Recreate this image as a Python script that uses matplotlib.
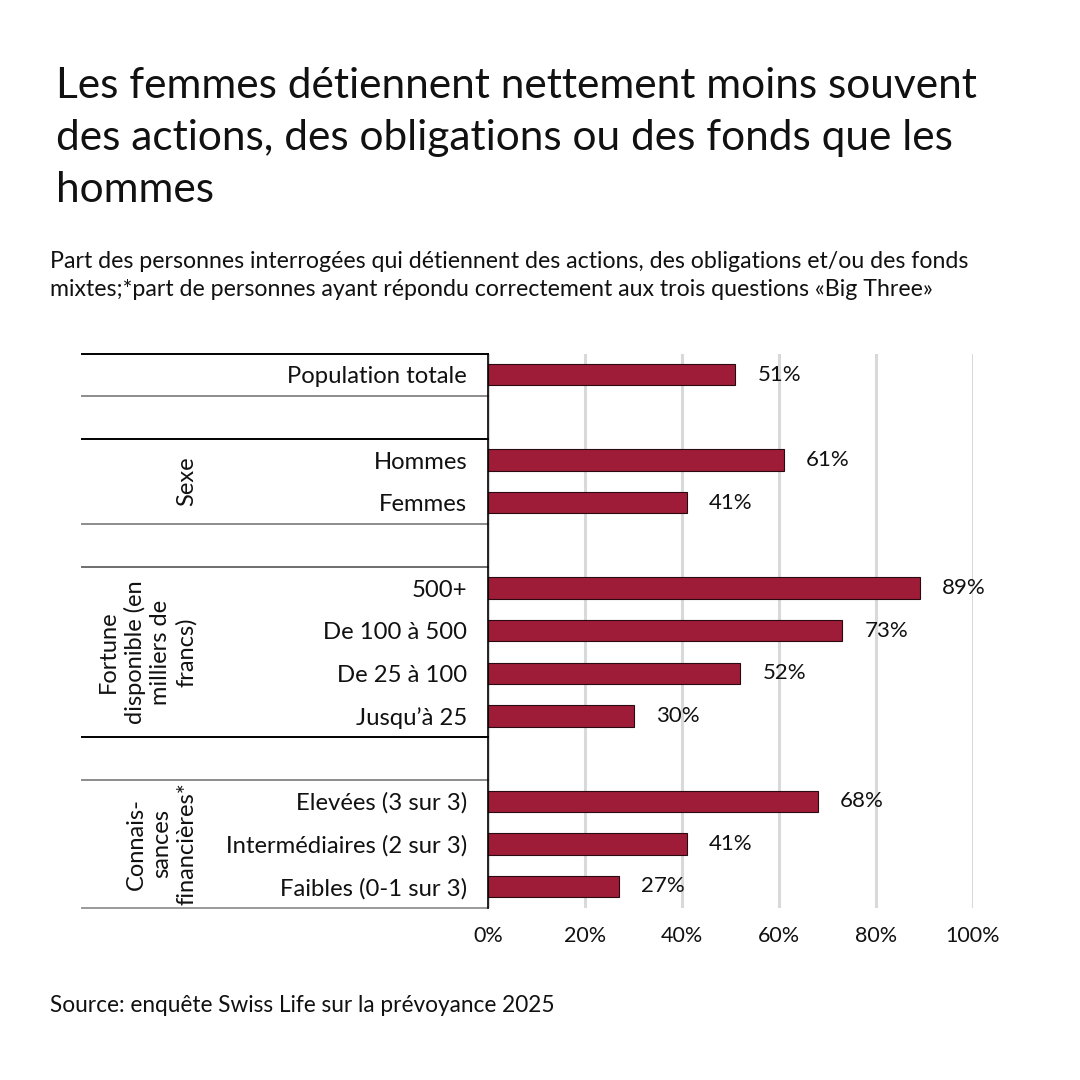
import matplotlib
matplotlib.use("Agg")
import matplotlib.pyplot as plt
import matplotlib.transforms as mtransforms

plt.rcParams['font.family'] = ['Lato', 'DejaVu Sans']

# ---- data ----
categories = ["Population totale", "", "Hommes", "Femmes", "",
              "500+", "De 100 à 500", "De 25 à 100", "Jusqu’à 25", "",
              "Elevées (3 sur 3)", "Intermédiaires (2 sur 3)", "Faibles (0-1 sur 3)"]
values = [51, None, 61, 41, None, 89, 73, 52, 30, None, 68, 41, 27]
value_labels = ["51%", "", "61%", "41%", "", "89%", "73%", "52%", "30%", "", "68%", "41%", "27%"]
group_names = ["Sexe", "Fortune\ndisponible (en\nmilliers de\nfrancs)", "Connais-\nsances\nfinancières*"]
group_centers = [2.5, 6.5, 11]
x_ticks = [0, 20, 40, 60, 80, 100]
x_tick_labels = ["0%", "20%", "40%", "60%", "80%", "100%"]
separator_rows = [-0.5, 0.5, 1.5, 3.5, 4.5, 8.5, 9.5, 12.5]
separator_colors = ["#000000", "#8c8c8c", "#000000", "#8c8c8c", "#6e6e6e", "#000000", "#8c8c8c", "#9a9a9a"]

title_lines = ["Les femmes détiennent nettement moins souvent",
               "des actions, des obligations ou des fonds que les",
               "hommes"]
subtitle_lines = ["Part des personnes interrogées qui détiennent des actions, des obligations et/ou des fonds",
                  "mixtes;*part de personnes ayant répondu correctement aux trois questions «Big Three»"]
source = "Source: enquête Swiss Life sur la prévoyance 2025"

BAR = "#9E1C37"
TXT = "#111111"

W = H = 1080
fig = plt.figure(figsize=(10.8, 10.8), dpi=100)
fig.patch.set_facecolor("white")

def px(x, y):
    return x / W, 1 - y / H

AX_L, AX_W = 488, 485
ax = fig.add_axes([AX_L / W, 1 - 907.8 / H, AX_W / W, 554.3 / H])

ypos = list(range(len(categories)))
for y, v, lab in zip(ypos, values, value_labels):
    if v is None:
        continue
    ax.barh(y, v, height=0.5, color=BAR, edgecolor="#2a0a10", linewidth=0.8, zorder=3)
    ax.annotate(lab, xy=(v, y), xytext=(16, 0), textcoords="offset points",
                ha="left", va="center", fontsize=16, color=TXT)

ax.set_xlim(0, 100)
ax.set_ylim(12.5, -0.5)
ax.set_xticks(x_ticks)
ax.set_xticklabels(x_tick_labels, fontsize=15.5, color=TXT)
ax.tick_params(axis="x", length=0, pad=13)
label_rows = [i for i, c in enumerate(categories) if c]
ax.set_yticks(label_rows)
ax.set_yticklabels([categories[i] for i in label_rows], fontsize=17.2, color=TXT)
ax.tick_params(axis="y", length=0, pad=15)

ax.grid(axis="x", color="#d9d9d9", linewidth=2.2, zorder=0)
ax.grid(axis="y", visible=False)
for s in ["top", "right", "bottom"]:
    ax.spines[s].set_visible(False)
ax.spines["left"].set_color("#000000")
ax.spines["left"].set_linewidth(1.2)
ax.spines["left"].set_zorder(4)

trans = mtransforms.blended_transform_factory(ax.transAxes, ax.transData)
x0 = (82 - AX_L) / AX_W
for r, c in zip(separator_rows, separator_colors):
    ax.plot([x0, 0], [r, r], color=c, linewidth=1.4, transform=trans, clip_on=False, zorder=4)

gx = (197 - AX_L) / AX_W
for name, yc in zip(group_names, group_centers):
    ax.text(gx, yc, name, transform=trans, rotation=90, ha="right", va="center",
            multialignment="center", fontsize=17, color=TXT, linespacing=1.25)

# title
for i, line in enumerate(title_lines):
    fig.text(*px(56, 98 + 52 * i), line, fontsize=30.5, color=TXT, ha="left", va="baseline")
for i, line in enumerate(subtitle_lines):
    fig.text(*px(50, 268 + 28 * i), line, fontsize=16.7, color=TXT, ha="left", va="baseline")
fig.text(*px(50, 1012), source, fontsize=16.3, color=TXT, ha="left", va="baseline")

fig.savefig("out.png", dpi=100, facecolor="white")
